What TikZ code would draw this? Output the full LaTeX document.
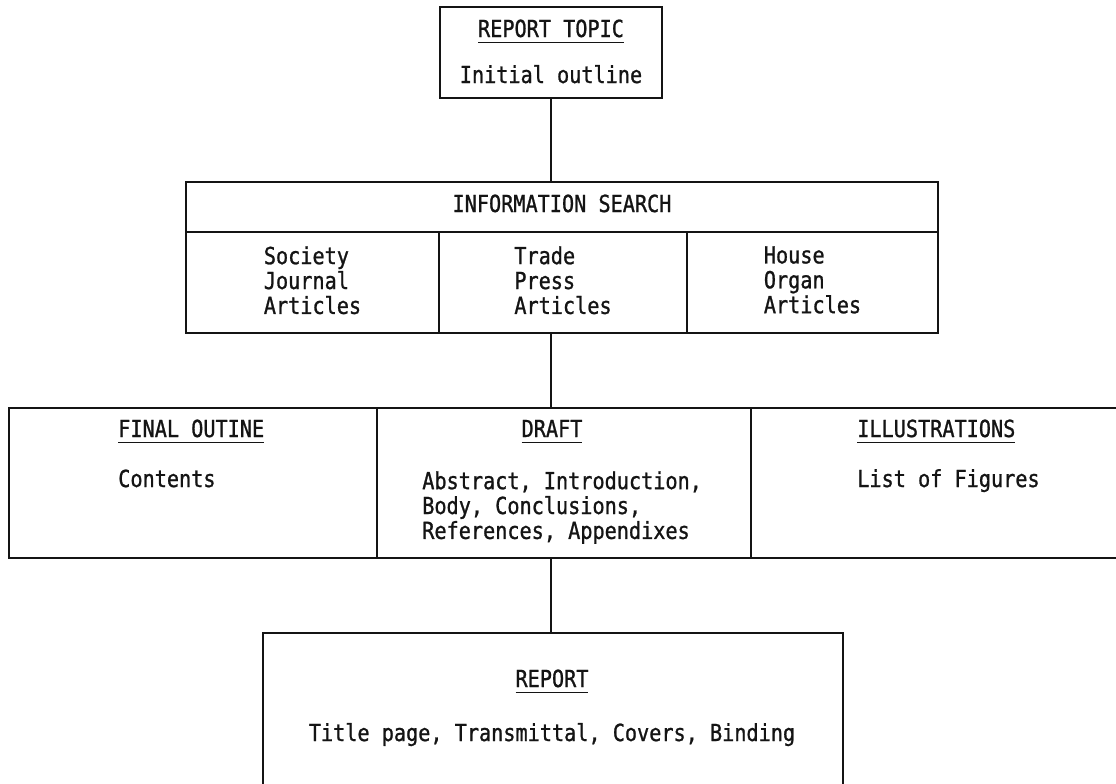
\documentclass[tikz,border=0pt]{standalone}
\usepackage{fontspec}
\newfontfamily\typewriter[FakeStretch=0.86,FakeBold=1]{DejaVu Sans Mono}
\usetikzlibrary{fit,calc}
\definecolor{ink}{RGB}{20,20,20}
\newcommand{\headline}[1]{\underline{#1\rule[-2pt]{0pt}{2pt}}}
\tikzset{
  cell/.style={draw=ink,line width=1.3pt,inner sep=0pt},
  txt/.style={font=\typewriter\fontsize{16.7}{17.7}\selectfont,text=ink,inner sep=0pt},
  ttl/.style={txt,anchor=base},
  link/.style={draw=ink,line width=1.3pt},
}

\begin{document}
\begin{tikzpicture}[x=0.025cm,y=-0.025cm]
  \useasboundingbox (0,0) rectangle (1116,783);
  \fill[white] (0,0) rectangle (1116,783);
  % boxes
  \node[cell,fit={(440,7) (662,98)}] (topic) {};
  \node[cell,fit={(186,182) (938,333)}] (search) {};
  \node[cell,fit={(186,232) (439,333)}] (sjc) {};
  \node[cell,fit={(439,232) (687,333)}] (tpc) {};
  \node[cell,fit={(687,232) (938,333)}] (hoc) {};
  \node[cell,fit={(9,408) (377,558)}] (outline) {};
  \node[cell,fit={(377,408) (751,558)}] (draft) {};
  \node[cell,fit={(751,408) (1130,558)}] (illus) {};
  \node[cell,fit={(263,633) (843,800)}] (report) {};
  % texts
  \node[ttl] (topicT) at (551,37) {\headline{REPORT TOPIC}};
  \node[ttl] (topicB) at (551,83) {Initial outline};
  \node[ttl] (searchT) at (562,212) {INFORMATION SEARCH};
  \node[txt,align=left,anchor=north] (sjT) at (sjc.center |- 0,246) {Society\\Journal\\Articles};
  \node[txt,align=left,anchor=north] (tpT) at (tpc.center |- 0,246) {Trade\\Press\\Articles};
  \node[txt,align=left,anchor=north] (hoT) at (hoc.center |- 0,246) {House\\Organ\\Articles};
  \node[ttl,anchor=base west] (outlineT) at (118,437) {\headline{FINAL OUTINE}};
  \node[ttl,anchor=base west] (outlineB) at (118,487) {Contents};
  \node[ttl] (draftT) at (552,437) {\headline{DRAFT}};
  \node[txt,align=left,anchor=north west] (draftB) at (422,471) {Abstract, Introduction,\\Body, Conclusions,\\References, Appendixes};
  \node[ttl,anchor=base west] (illusT) at (857,437) {\headline{ILLUSTRATIONS}};
  \node[ttl,anchor=base west] (illusB) at (857,487) {List of Figures};
  \node[ttl] (reportT) at (552,687) {\headline{REPORT}};
  \node[ttl] (reportB) at (552,741) {Title page, Transmittal, Covers, Binding};
  % connectors
  \draw[link] (topic.south) -- (topic.south |- search.north);
  \draw[link] (search.south -| topic.south) -- (draft.north -| topic.south);
  \draw[link] (draft.south -| topic.south) -- (report.north -| topic.south);
\end{tikzpicture}
\end{document}
